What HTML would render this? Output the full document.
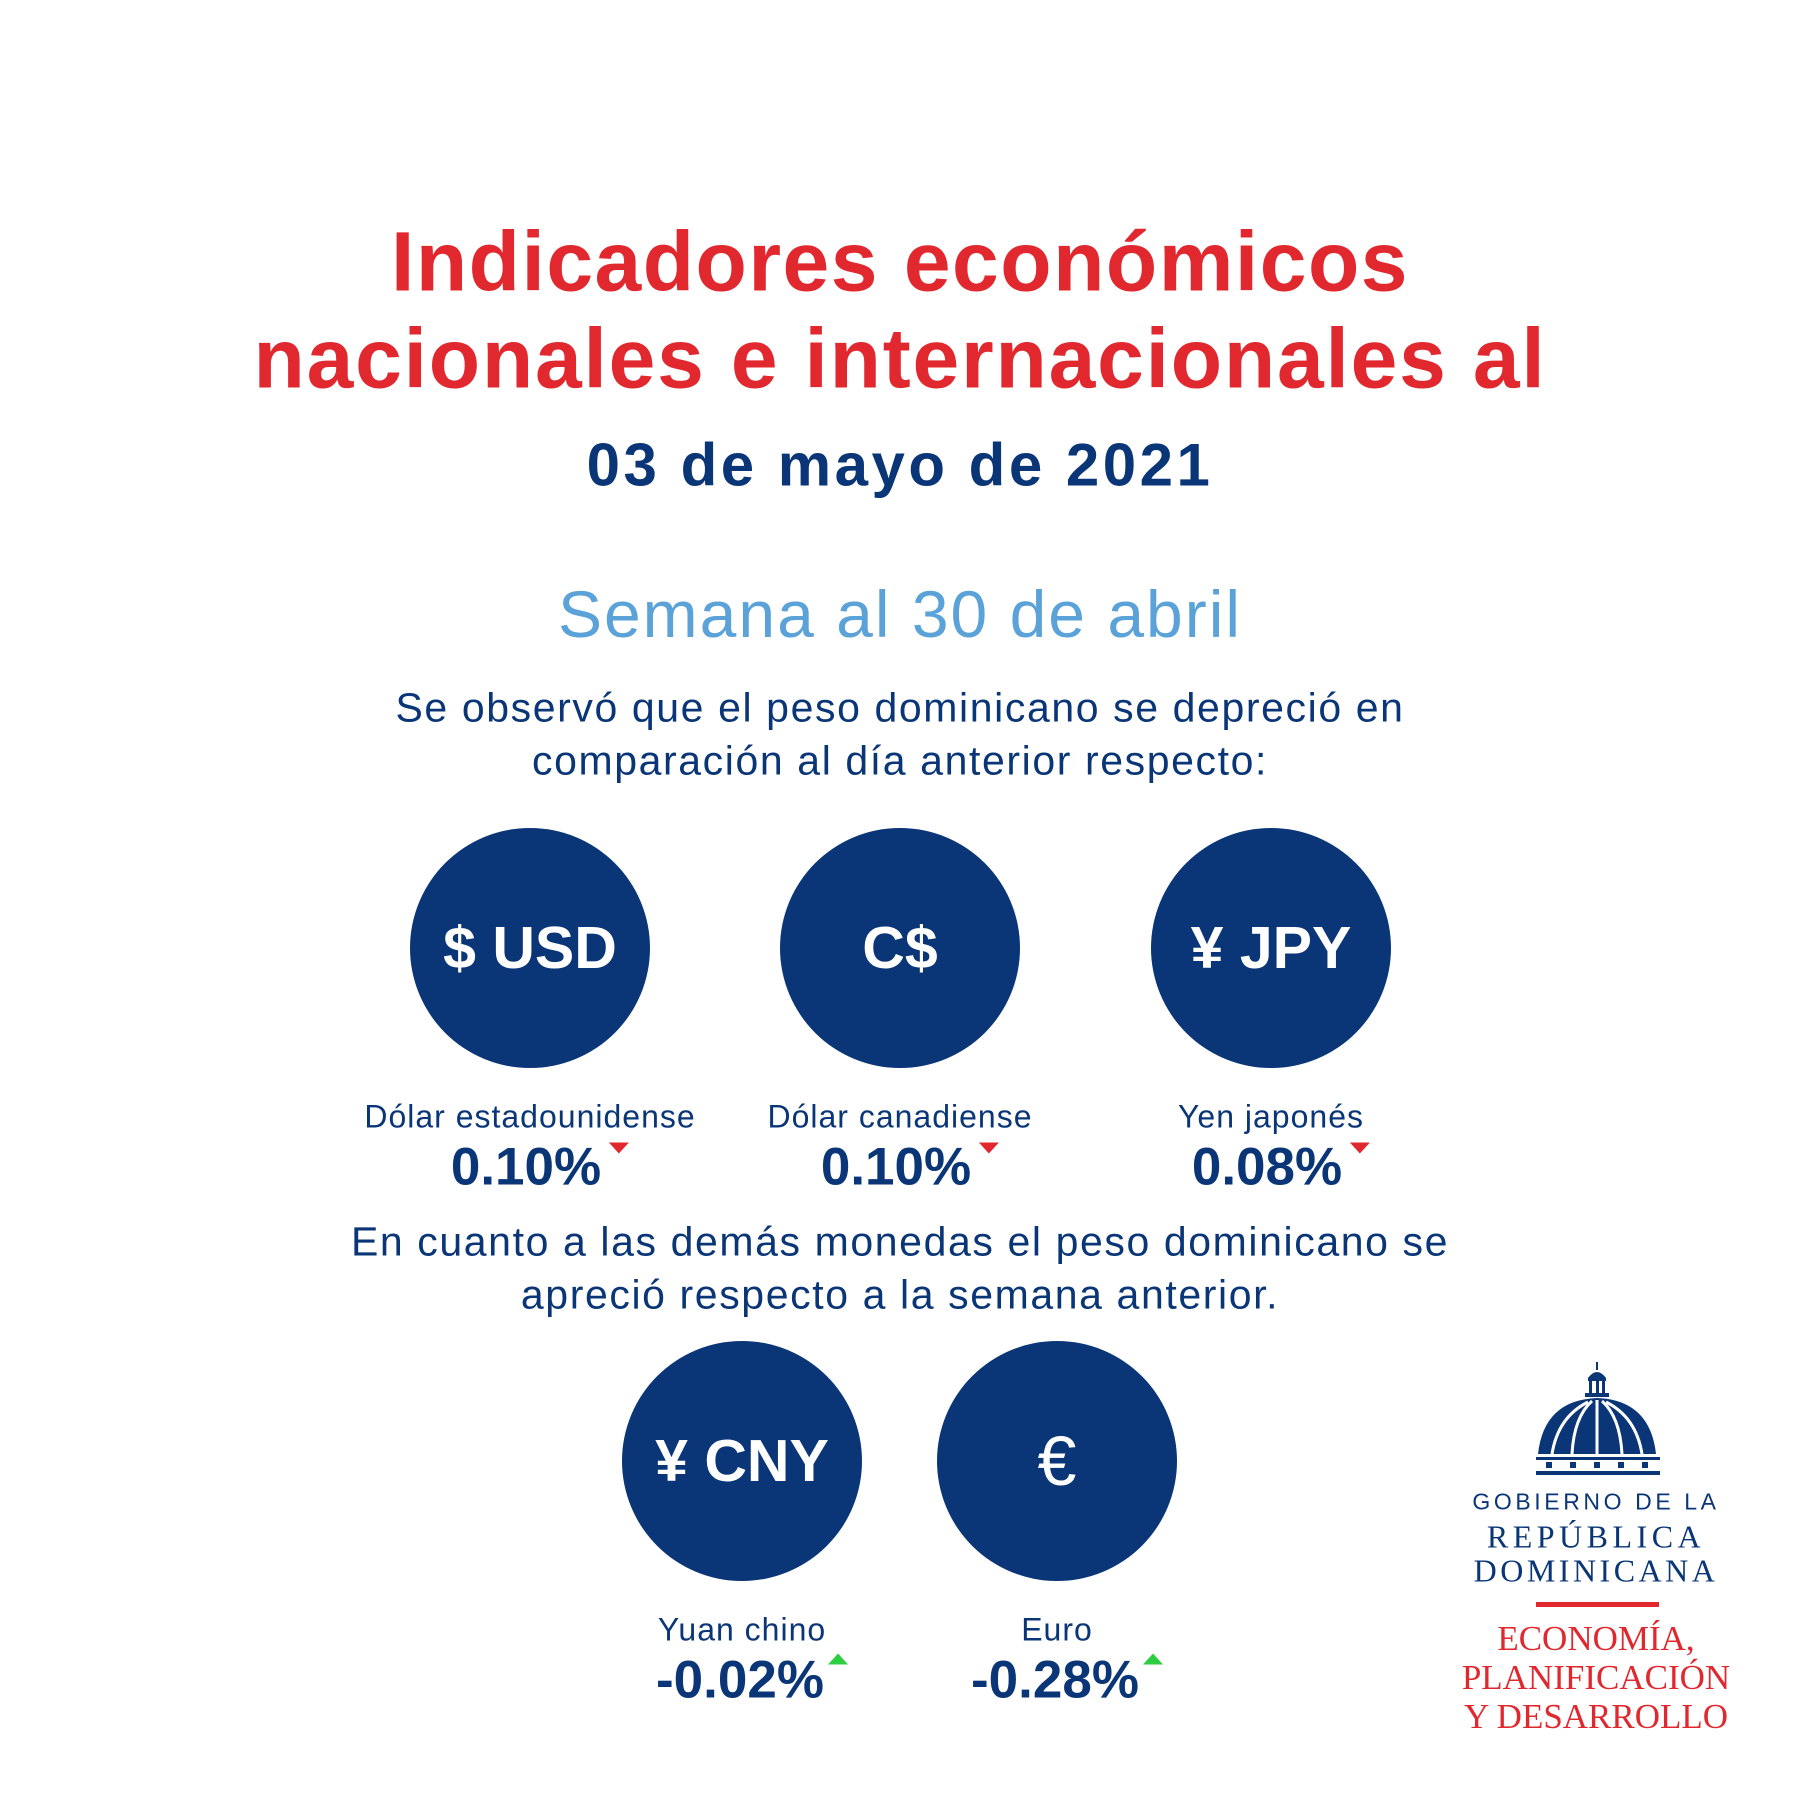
<!DOCTYPE html>
<html><head><meta charset="utf-8"><style>
body{margin:0;width:1800px;height:1800px;background:#fff;position:relative;overflow:hidden;font-family:"Liberation Sans",sans-serif}
.t{position:absolute;left:0;width:1800px;text-align:center;white-space:nowrap;transform:translateY(-50%)}
.c{position:absolute;width:240px;height:240px;border-radius:50%;background:#0a3677;color:#fff;font-weight:bold;font-size:59px;display:flex;align-items:center;justify-content:center;transform:translate(-50%,-50%)}
.l{position:absolute;transform:translate(-50%,-50%);white-space:nowrap;color:#0a3677;text-align:center}
.lab{font-size:32px;letter-spacing:1px}
.p{font-size:53px;font-weight:bold}
.dn{display:inline-block;width:0;height:0;border-left:10px solid transparent;border-right:10px solid transparent;border-top:11px solid #e0282e;vertical-align:top;margin-top:6px;margin-left:8px}
.up{display:inline-block;width:0;height:0;border-left:10px solid transparent;border-right:10px solid transparent;border-bottom:11px solid #2ecc40;vertical-align:top;margin-top:4px;margin-left:4px}
.g{position:absolute;left:1396px;width:400px;text-align:center;transform:translateY(-50%);white-space:nowrap}
.serif{font-family:"Liberation Serif",serif}
</style></head><body>
<div class="t" style="top:262px;color:#e0282e;font-weight:bold;font-size:84px;letter-spacing:1.5px">Indicadores económicos</div>
<div class="t" style="top:359px;color:#e0282e;font-weight:bold;font-size:84px;letter-spacing:1.8px">nacionales e internacionales al</div>
<div class="t" style="top:465px;color:#0a3677;font-weight:bold;font-size:60px;letter-spacing:3.5px">03 de mayo de 2021</div>
<div class="t" style="top:614px;color:#5aa2d8;font-size:66px;letter-spacing:2px">Semana al 30 de abril</div>
<div class="t" style="top:708px;color:#0a3677;font-size:41px;letter-spacing:1.6px">Se observó que el peso dominicano se depreció en</div>
<div class="t" style="top:761px;color:#0a3677;font-size:41px;letter-spacing:1.6px">comparación al día anterior respecto:</div>

<div class="c" style="left:530px;top:948px">$ USD</div>
<div class="c" style="left:900px;top:948px">C$</div>
<div class="c" style="left:1271px;top:948px">¥ JPY</div>
<div class="l lab" style="left:530px;top:1117px">Dólar estadounidense</div>
<div class="l lab" style="left:900px;top:1117px">Dólar canadiense</div>
<div class="l lab" style="left:1271px;top:1117px">Yen japonés</div>
<div class="l p" style="left:540px;top:1167px">0.10%<span class="dn"></span></div>
<div class="l p" style="left:910px;top:1167px">0.10%<span class="dn"></span></div>
<div class="l p" style="left:1281px;top:1167px">0.08%<span class="dn"></span></div>

<div class="t" style="top:1242px;color:#0a3677;font-size:41px;letter-spacing:1.6px">En cuanto a las demás monedas el peso dominicano se</div>
<div class="t" style="top:1295px;color:#0a3677;font-size:41px;letter-spacing:1.6px">apreció respecto a la semana anterior.</div>

<div class="c" style="left:742px;top:1461px">¥ CNY</div>
<div class="c" style="left:1057px;top:1461px;font-weight:normal;font-size:70px">€</div>
<div class="l lab" style="left:742px;top:1630px">Yuan chino</div>
<div class="l lab" style="left:1057px;top:1630px">Euro</div>
<div class="l p" style="left:752px;top:1680px">-0.02%<span class="up"></span></div>
<div class="l p" style="left:1067px;top:1680px">-0.28%<span class="up"></span></div>

<svg style="position:absolute;left:1536px;top:1362px" width="124" height="115" viewBox="0 0 124 115">
<g fill="#0a3677">
<rect x="60" y="0" width="2" height="8"/>
<path d="M52 16 Q61 4 70 16 Z"/>
<rect x="52" y="16" width="18" height="3"/>
<rect x="53" y="19" width="3" height="12"/><rect x="60" y="19" width="3" height="12"/><rect x="66" y="19" width="3" height="12"/>
<rect x="49" y="31" width="24" height="4"/>
<path d="M2 92 Q8 38 61 36 Q114 38 120 92 Z"/>
<rect x="0" y="95" width="124" height="3"/>
<rect x="10" y="100" width="6" height="6"/><rect x="34" y="100" width="6" height="6"/><rect x="58" y="100" width="6" height="6"/><rect x="82" y="100" width="6" height="6"/><rect x="106" y="100" width="6" height="6"/>
<rect x="0" y="109" width="124" height="4"/>
</g>
<g stroke="#fff" stroke-width="3" fill="none">
<path d="M61 38 V92"/><path d="M56 39 Q38 55 36 92"/><path d="M66 39 Q84 55 86 92"/><path d="M52 40 Q22 55 16 92"/><path d="M70 40 Q100 55 106 92"/>
</g>
</svg>
<div class="g" style="top:1502px;color:#0a3677;font-size:23px;letter-spacing:3.6px">GOBIERNO DE LA</div>
<div class="g serif" style="top:1537px;color:#0a3677;font-size:32px;letter-spacing:4.5px">REPÚBLICA</div>
<div class="g serif" style="top:1571px;color:#0a3677;font-size:32px;letter-spacing:3.5px">DOMINICANA</div>
<div style="position:absolute;left:1536px;top:1602px;width:123px;height:5px;background:#e0282e"></div>
<div class="g serif" style="top:1639px;color:#e0282e;font-size:35px">ECONOMÍA,</div>
<div class="g serif" style="top:1678px;color:#e0282e;font-size:35px">PLANIFICACIÓN</div>
<div class="g serif" style="top:1717px;color:#e0282e;font-size:35px">Y DESARROLLO</div>
</body></html>
